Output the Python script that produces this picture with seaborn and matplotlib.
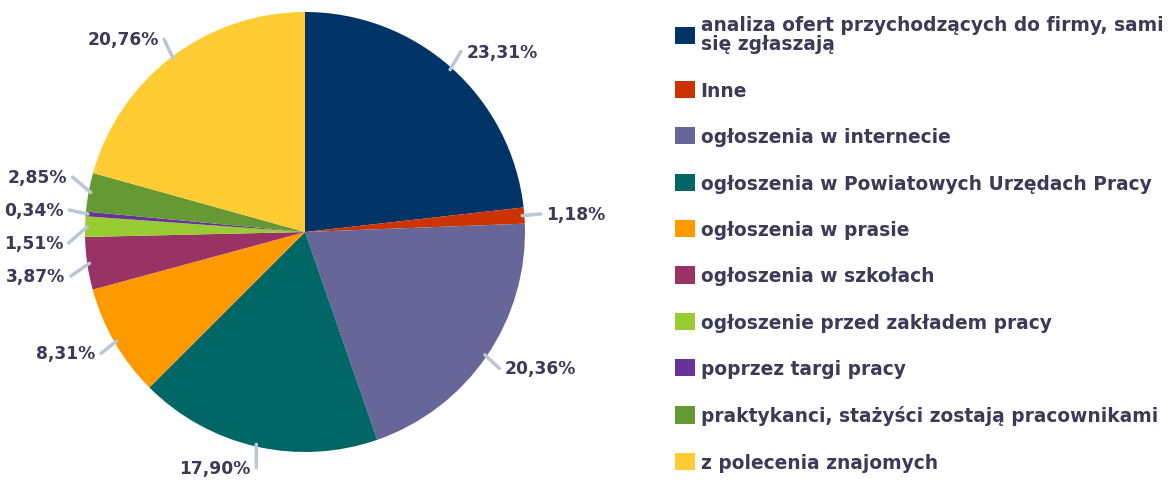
import matplotlib
matplotlib.use("Agg")
import matplotlib.pyplot as plt
import seaborn as sns
import numpy as np
from matplotlib.patches import Patch

categories = [
    "analiza ofert przychodzących do firmy, sami\nsię zgłaszają",
    "Inne",
    "ogłoszenia w internecie",
    "ogłoszenia w Powiatowych Urzędach Pracy",
    "ogłoszenia w prasie",
    "ogłoszenia w szkołach",
    "ogłoszenie przed zakładem pracy",
    "poprzez targi pracy",
    "praktykanci, stażyści zostają pracownikami",
    "z polecenia znajomych",
]
values = [23.31, 1.18, 20.36, 17.90, 8.31, 3.87, 1.51, 0.34, 2.85, 20.76]
colors = ["#003366", "#CC3300", "#666699", "#006666", "#FF9900",
          "#993366", "#99CC33", "#663399", "#669933", "#FFCC33"]

sns.set_theme(style="white")
plt.rcParams["font.family"] = ["DejaVu Sans"]

TEXT = "#3b3b58"
LEAD = "#bcc7d6"

fig = plt.figure(figsize=(11.68, 4.85), dpi=100)
ax = fig.add_axes([0, 0, 610 / 1168, 1])
wedges, _ = ax.pie(values, colors=colors, startangle=90, counterclock=False,
                   radius=1, wedgeprops=dict(linewidth=0))
ax.set_xlim(-305 / 220, 305 / 220)
ax.set_ylim(-252 / 220, 233 / 220)
ax.axis("off")

# label anchors
info = []
for w, v in zip(wedges, values):
    ang = np.deg2rad((w.theta1 + w.theta2) / 2)
    c, s = np.cos(ang), np.sin(ang)
    info.append([c, s, 1.1 * c, 1.1 * s, v])

# spread crowded left-side labels vertically (groups centred on their mean)
left = sorted([i for i in info if i[0] < 0], key=lambda d: -d[3])
gap = 0.15
groups = [[d] for d in left]
changed = True
while changed:
    changed = False
    for g in groups:
        m = np.mean([d[1] * 1.1 for d in g])
        n = len(g)
        for k, d in enumerate(g):
            d[3] = m + ((n - 1) / 2 - k) * gap - 0.015 * (n > 1)
    for i in range(len(groups) - 1):
        if groups[i][-1][3] - groups[i + 1][0][3] < gap - 1e-9:
            groups[i] = groups[i] + groups[i + 1]
            del groups[i + 1]
            changed = True
            break

for c, s, lx, ly, v in info:
    ha = "left" if c >= 0 else "right"
    off = -0.025 if c >= 0 else 0.025
    ax.plot([c * 0.99, lx + off], [s * 0.99, ly], color=LEAD, lw=2.5,
            solid_capstyle="round", zorder=1)
    ax.text(lx, ly, f"{v:.2f}%".replace(".", ","), ha=ha, va="center",
            fontsize=12.3, fontweight="bold", color=TEXT)

handles = [Patch(facecolor=col, edgecolor="none") for col in colors]
leg = fig.legend(handles, categories, loc="upper left",
                 bbox_to_anchor=(668 / 1168, 1 - 9 / 485), frameon=False,
                 prop={"weight": "bold", "size": 13.4}, labelcolor=TEXT,
                 labelspacing=1.47, handlelength=1.05, handleheight=1.05,
                 handletextpad=0.3, borderaxespad=0)
leg.get_texts()[0].set_linespacing(1.0)

fig.savefig("out.png", dpi=100)
